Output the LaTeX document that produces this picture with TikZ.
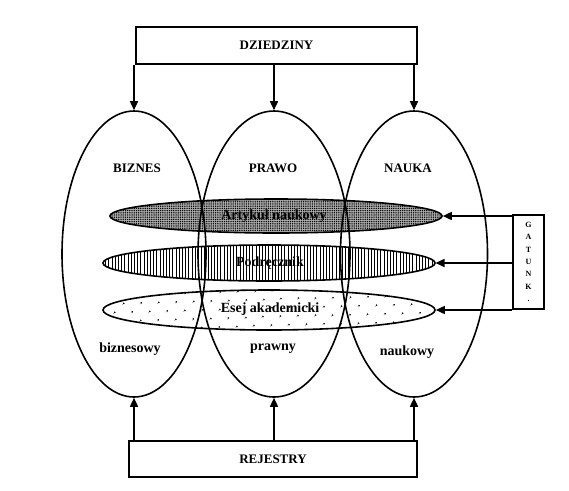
\documentclass[tikz,border=0pt]{standalone}
\usepackage{fontspec}
\setmainfont{Liberation Serif}
\usepackage{tikz}
\usetikzlibrary{shapes.geometric,arrows.meta,patterns,patterns.meta}

\tikzset{
    pole/.style={draw, ellipse, inner sep=0pt},
    ramka/.style={draw, rectangle, inner sep=0pt},
    strz/.style={-{Triangle[length=9pt,width=8pt]}},
    duzy/.style={font=\bfseries\fontsize{13}{15}\selectfont},
    maly/.style={font=\bfseries\fontsize{14}{16}\selectfont},
}

\begin{document}
\begin{tikzpicture}[x=1pt, y=-1pt, line width=1.6pt]
    \useasboundingbox (0,0) rectangle (569,490);

    % Gatunki.
    \node[pole, minimum width=332, minimum height=34, preaction={fill=gray!65},
          pattern={Dots[distance=2.2pt, radius=0.75pt]}] (artykul) at (276,216) {};
    \node[pole, minimum width=332, minimum height=36,
          pattern={Lines[angle=90, distance=3.2pt, line width=1pt]}] (podrecznik) at (269,263) {};
    \node[pole, minimum width=332, minimum height=40,
          pattern={Dots[distance=13pt, angle=45, radius=1pt]}] (esej) at (269,310) {};

    % Dziedziny.
    \node[pole, minimum width=144, minimum height=286] (biznes) at (134,254) {};
    \node[pole, minimum width=152, minimum height=286] (prawo)  at (274,254) {};
    \node[pole, minimum width=147, minimum height=286] (nauka)  at (414,254) {};

    % Ramki.
    \node[ramka, minimum width=281, minimum height=37] (dziedziny) at (276.5,45.5) {};
    \node[ramka, minimum width=288, minimum height=36] (rejestry) at (273,459) {};
    \node[ramka, minimum width=31, minimum height=94] (gatunki) at (528.5,262) {};

    % Strzalki.
    \foreach \d in {biznes, prawo, nauka}
    {
        \draw[strz] (\d.north |- dziedziny.south) -- (\d.north);
        \draw[strz] (\d.south |- rejestry.north) -- (\d.south);
    }
    \foreach \g in {artykul, podrecznik, esej}
    {
        \draw[strz] (\g.east -| gatunki.west) -- (\g.east);
    }

    % Beschriftung.
    \node[duzy] (tdz) at (dziedziny) {DZIEDZINY};
    \node[duzy] (tre) at (rejestry) {REJESTRY};
    \node[font=\bfseries\fontsize{8}{12.3}\selectfont, align=center] (tga) at (gatunki)
        {G\\A\\T\\U\\N\\K\\.};

    \node[duzy] (tbi) at (137,168) {BIZNES};
    \node[duzy] (tpr) at (273,168) {PRAWO};
    \node[duzy] (tna) at (408,168) {NAUKA};

    \node[maly] (tbs) at (130,349) {biznesowy};
    \node[maly] (tps) at (273,349) {prawny};
    \node[maly] (tns) at (407,352) {naukowy};

    \node[maly] (tar) at (274,216) {Artykuł naukowy};
    \node[maly] (tpo) at (270,263) {Podręcznik};
    \node[maly] (tes) at (270,309) {Esej akademicki};
\end{tikzpicture}
\end{document}
